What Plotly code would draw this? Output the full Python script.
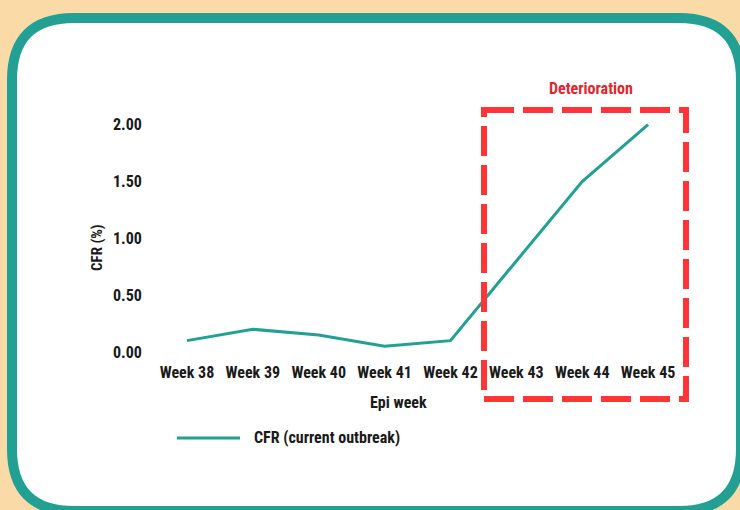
import plotly.graph_objects as go

# data
weeks = ["Week 38", "Week 39", "Week 40", "Week 41", "Week 42", "Week 43", "Week 44", "Week 45"]
cfr = [0.10, 0.20, 0.15, 0.05, 0.10, 0.80, 1.50, 2.00]
y_ticks = [0, 0.5, 1.0, 1.5, 2.0]

W, H = 740, 510
ML, MR, MT, MB = 154, 59, 119, 158
PW, PH = W - ML - MR, H - MT - MB

FONT = "Roboto Condensed, Roboto, sans-serif"
TEAL = "#22a094"
RED = "#ff3535"
INK = "#1a1a1a"


def px(x):
    return (x - ML) / PW


def py(y):
    return (H - MB - y) / PH


def rounded_path(x0, y0, x1, y1, r):
    """rounded rect path in paper coords from pixel corners"""
    pts = [
        ("M", [(x0 + r, y0)]),
        ("L", [(x1 - r, y0)]),
        ("Q", [(x1, y0), (x1, y0 + r)]),
        ("L", [(x1, y1 - r)]),
        ("Q", [(x1, y1), (x1 - r, y1)]),
        ("L", [(x0 + r, y1)]),
        ("Q", [(x0, y1), (x0, y1 - r)]),
        ("L", [(x0, y0 + r)]),
        ("Q", [(x0, y0), (x0 + r, y0)]),
    ]
    s = ""
    for cmd, coords in pts:
        s += cmd + " ".join(f"{px(a):.5f},{py(b):.5f}" for a, b in coords) + " "
    return s + "Z"


def label(text, x, y, size=16, color=INK, xanchor="center", angle=0):
    return dict(text=text, x=px(x), y=py(y), xref="paper", yref="paper",
                xanchor=xanchor, yanchor="middle", textangle=angle, showarrow=False,
                font=dict(family=FONT, size=size, color=color, weight="bold"))


fig = go.Figure()

fig.add_trace(go.Scatter(
    x=weeks, y=cfr, mode="lines",
    line=dict(color=TEAL, width=3),
    name="CFR (current outbreak)",
    showlegend=False
))

shapes = [
    # card background
    dict(type="path", xref="paper", yref="paper", layer="below",
         path=rounded_path(12, 18, 741, 511, 62),
         fillcolor="white", line=dict(color=TEAL, width=10)),
    # deterioration box
    dict(type="rect", xref="paper", yref="paper",
         x0=px(484), x1=px(686), y0=py(110), y1=py(399),
         line=dict(color=RED, width=6, dash="30px,9px")),
    # legend line
    dict(type="line", xref="paper", yref="paper",
         x0=px(177), x1=px(240), y0=py(438), y1=py(438),
         line=dict(color=TEAL, width=3)),
]

annotations = [
    label("Deterioration", 591, 88, color="#e3262c"),
    label("CFR (%)", 97, 248, size=15, angle=-90),
    label("Epi week", 398, 402),
    label("CFR (current outbreak)", 252, 437, xanchor="left"),
]

fig.update_layout(
    width=W, height=H,
    margin=dict(l=ML, r=MR, t=MT, b=MB),
    paper_bgcolor="#fadba7",
    plot_bgcolor="rgba(0,0,0,0)",
    font=dict(family=FONT, size=16, color=INK, weight="bold"),
    shapes=shapes,
    annotations=annotations,
    showlegend=False,
    xaxis=dict(
        type="category", range=[-0.5, 7.5], tickangle=0,
        showgrid=False, zeroline=False, showline=False,
        ticks="outside", ticklen=6, tickcolor="rgba(0,0,0,0)",
        fixedrange=True,
    ),
    yaxis=dict(
        range=[0, 2.05], tickvals=y_ticks, tickformat=".2f",
        showgrid=False, zeroline=False, showline=False,
        ticks="outside", ticklen=8, tickcolor="rgba(0,0,0,0)",
        fixedrange=True,
    ),
)

fig.write_html("out.html", config={"displayModeBar": False},
               post_script="document.body.style.margin='0';")
